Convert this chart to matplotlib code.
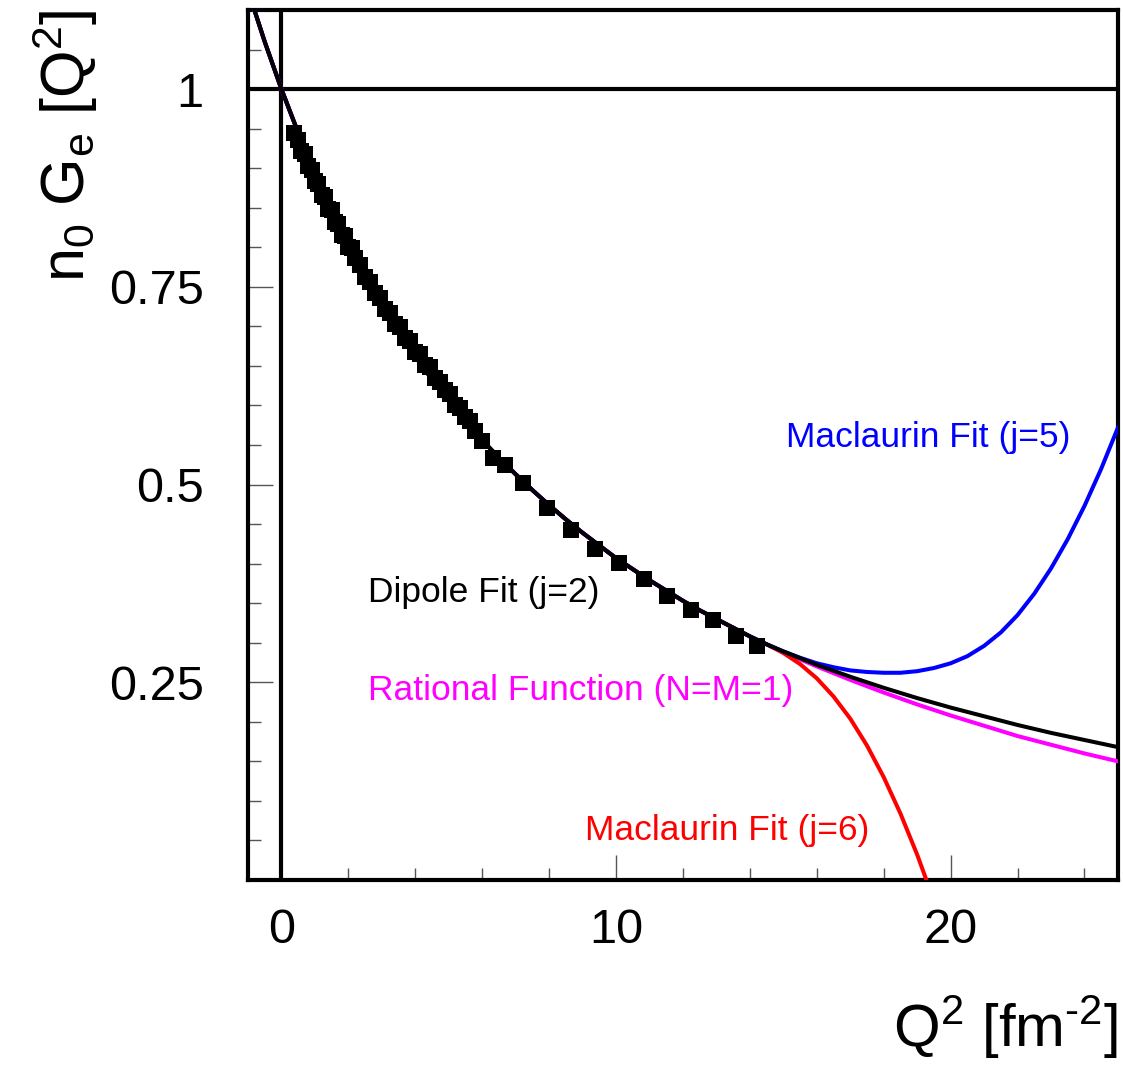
import matplotlib
matplotlib.use("Agg")
import matplotlib.pyplot as plt
from matplotlib.ticker import MultipleLocator
import numpy as np

plt.rcParams['font.family'] = ['Liberation Sans', 'DejaVu Sans']
plt.rcParams['mathtext.fontset'] = 'custom'
plt.rcParams['mathtext.rm'] = 'Liberation Sans'
plt.rcParams['mathtext.it'] = 'Liberation Sans'

# data points (Q^2 in fm^-2, n0*Ge)
q2_data = [0.38, 0.50, 0.60, 0.70, 0.80, 0.90, 1.00, 1.10, 1.20, 1.30, 1.40,
           1.50, 1.60, 1.70, 1.80, 1.90, 2.00, 2.10, 2.20, 2.35, 2.50, 2.65,
           2.80, 2.95, 3.10, 3.25, 3.40, 3.55, 3.70, 3.85, 4.00, 4.15, 4.30,
           4.45, 4.60, 4.75, 4.90, 5.05, 5.20, 5.35, 5.50, 5.65, 5.80, 6.00,
           6.33, 6.68, 7.23, 7.93, 8.65, 9.37, 10.10, 10.84, 11.53, 12.23,
           12.91, 13.58, 14.22]
ge_data = [0.944, 0.936, 0.922, 0.918, 0.903, 0.898, 0.884, 0.880, 0.866, 0.863, 0.849,
           0.847, 0.832, 0.830, 0.816, 0.814, 0.800, 0.799, 0.786, 0.777, 0.763, 0.756,
           0.742, 0.736, 0.722, 0.717, 0.703, 0.699, 0.685, 0.682, 0.668, 0.665, 0.651,
           0.648, 0.635, 0.630, 0.619, 0.614, 0.601, 0.597, 0.585, 0.580, 0.568, 0.555,
           0.533, 0.525, 0.502, 0.470, 0.443, 0.418, 0.401, 0.381, 0.359, 0.342,
           0.329, 0.308, 0.296]

# part of the fits where all four curves lie on top of each other
q2_common = [-1.0, -0.5, 0.0, 0.5, 1.0, 1.5, 2.0, 2.5, 3.0, 3.5, 4.0, 4.5, 5.0,
             5.5, 6.0, 6.5, 7.0, 7.5, 8.0, 8.5, 9.0, 9.5, 10.0, 10.5, 11.0,
             11.5, 12.0, 12.5, 13.0, 13.5, 14.0, 14.5]
ge_common = [1.125, 1.060, 1.000, 0.945, 0.893, 0.846, 0.803, 0.763, 0.727, 0.693,
             0.662, 0.633, 0.606, 0.580, 0.556, 0.534, 0.513, 0.493, 0.474, 0.456,
             0.439, 0.423, 0.407, 0.393, 0.379, 0.366, 0.353, 0.341, 0.330, 0.319,
             0.308, 0.298]

# tails where the fits split apart
q2_dip = [15, 16, 17, 18, 19, 20, 21, 22, 23, 24, 25]
ge_dip = [0.289, 0.272, 0.257, 0.243, 0.230, 0.218, 0.207, 0.196, 0.186, 0.177, 0.168]

q2_rat = [15, 16, 17, 18, 19, 20, 21, 22, 23, 24, 25]
ge_rat = [0.288, 0.270, 0.253, 0.237, 0.222, 0.208, 0.195, 0.182, 0.171, 0.160, 0.150]

q2_mac5 = [15.0, 15.5, 16.0, 16.5, 17.0, 17.5, 18.0, 18.5, 19.0, 19.5, 20.0,
           20.5, 21.0, 21.5, 22.0, 22.5, 23.0, 23.5, 24.0, 24.5, 25.0]
ge_mac5 = [0.289, 0.281, 0.274, 0.269, 0.265, 0.263, 0.262, 0.262, 0.264, 0.268, 0.274,
           0.283, 0.296, 0.313, 0.335, 0.362, 0.394, 0.431, 0.473, 0.520, 0.572]

q2_mac6 = [15.0, 15.5, 16.0, 16.5, 17.0, 17.5, 18.0, 18.5, 19.0, 19.5]
ge_mac6 = [0.287, 0.273, 0.255, 0.232, 0.204, 0.170, 0.130, 0.084, 0.032, -0.026]

fig = plt.figure(figsize=(11.23, 10.66), dpi=100)
ax = fig.add_axes([0.2208, 0.1745, 0.7747, 0.8161])

ax.axhline(1.0, color='black', lw=3.0, zorder=2)
ax.axvline(0.0, color='black', lw=3.0, zorder=2)

curves = [
    (q2_rat, ge_rat, '#ff00ff'),
    (q2_mac6, ge_mac6, '#ff0000'),
    (q2_mac5, ge_mac5, '#0000ff'),
    (q2_dip, ge_dip, 'black'),
]
for qt, gt, col in curves:
    ax.plot(q2_common + list(qt), ge_common + list(gt), color=col, lw=2.9,
            zorder=3, solid_joinstyle='round')

ax.plot(q2_data, ge_data, 's', color='black', ms=11.5, mew=0, zorder=5)

ax.set_xlim(-1, 25)
ax.set_ylim(0, 1.1)

ax.xaxis.set_minor_locator(MultipleLocator(2))
ax.yaxis.set_minor_locator(MultipleLocator(0.05))
ax.set_xticks([0, 10, 20])
ax.set_xticklabels(['0', '10', '20'])
ax.set_yticks([0.25, 0.5, 0.75, 1.0])
ax.set_yticklabels(['0.25', '0.5', '0.75', '1'])

ax.tick_params(which='both', direction='in', top=False, right=False, width=1.0,
               colors='#555555', labelcolor='black', labelsize=35)
ax.tick_params(which='major', length=18)
ax.tick_params(which='minor', length=9)
ax.tick_params(axis='y', which='major', pad=32)
ax.tick_params(axis='x', which='major', pad=20)

for s in ax.spines.values():
    s.set_linewidth(3.0)

fs = 25.5
ax.text(15.08, 0.560, 'Maclaurin Fit (j=5)', color='#0000ff', fontsize=fs, va='center')
ax.text(2.59, 0.363, 'Dipole Fit (j=2)', color='black', fontsize=fs, va='center')
ax.text(2.59, 0.240, 'Rational Function (N=M=1)', color='#ff00ff', fontsize=fs, va='center')
ax.text(9.07, 0.063, 'Maclaurin Fit (j=6)', color='#ff0000', fontsize=fs, va='center')

fig.text(0.058, 0.991, r'$\mathregular{n_{0}\ G_{e}\ [Q^{2}]}$', rotation=90,
         ha='center', va='top', fontsize=44)
fig.text(0.9955, 0.036, r'$\mathregular{Q^{2}\ [fm^{\text{-}2}]}$', ha='right', va='center',
         fontsize=43)

fig.savefig('out.png', dpi=100)
